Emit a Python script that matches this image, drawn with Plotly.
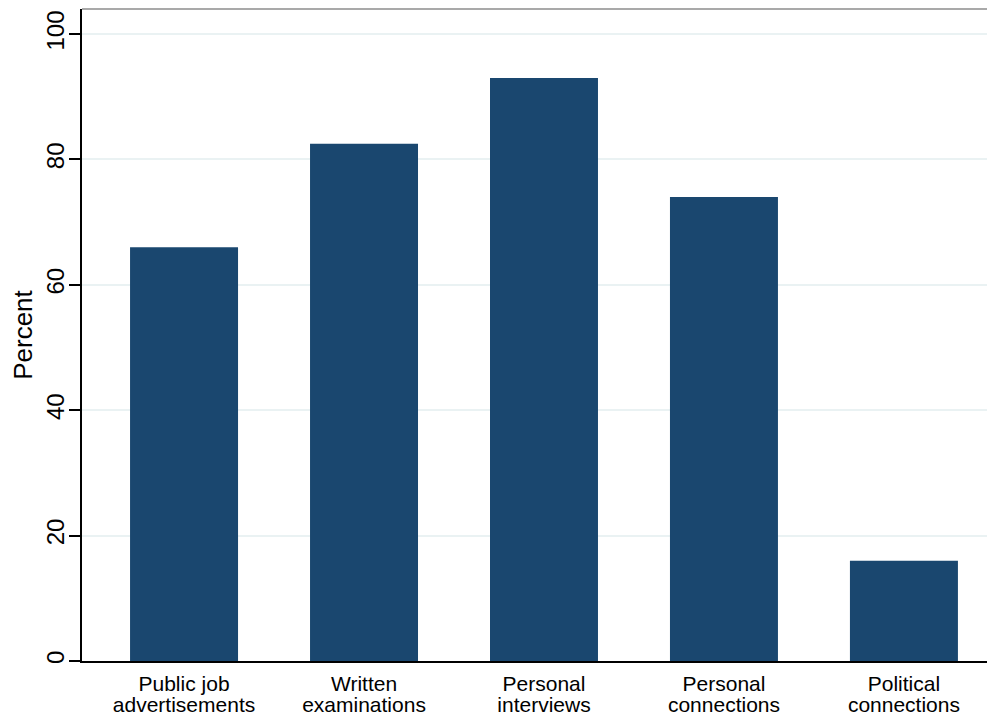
import plotly.graph_objects as go

categories = ["Public job advertisements", "Written examinations", "Personal interviews",
              "Personal connections", "Political connections"]
label_line1 = ["Public job", "Written", "Personal", "Personal", "Political"]
label_line2 = ["advertisements", "examinations", "interviews", "connections", "connections"]
percent = [66.0, 82.5, 93.0, 74.0, 16.0]
y_ticks = [0, 20, 40, 60, 80, 100]

pos = list(range(len(categories)))
FONT = "Liberation Sans, Arial, sans-serif"
xr = [-0.567, 4.506]

fig = go.Figure()
fig.add_trace(go.Bar(x=pos, y=percent, width=0.6, marker=dict(color="#1a476f", line=dict(width=0)),
                     hovertext=categories, name="Percent"))
fig.add_trace(go.Scatter(x=[pos[0]], y=[0], xaxis="x2", mode="markers",
                         marker=dict(opacity=0), hoverinfo="skip", showlegend=False))

fig.update_layout(
    width=987, height=710,
    margin=dict(l=74, r=0, t=1, b=57, autoexpand=False),
    paper_bgcolor="white", plot_bgcolor="white",
    showlegend=False,
    font=dict(family=FONT, color="black"),
    xaxis=dict(range=xr, tickmode="array", tickvals=pos, ticktext=label_line1,
               showgrid=False, zeroline=False, showline=True, linecolor="black", linewidth=1.5,
               ticks="", tickfont=dict(size=21, family=FONT), ticklabelstandoff=3),
    xaxis2=dict(range=xr, overlaying="x", anchor="y", side="bottom", tickmode="array",
                tickvals=pos, ticktext=label_line2, showgrid=False, zeroline=False, showline=False,
                ticks="", tickfont=dict(size=21, family=FONT), ticklabelstandoff=29),
    yaxis=dict(range=[0, 104.0], tickmode="array", tickvals=y_ticks,
               showgrid=True, gridcolor="#eaf2f3", gridwidth=2, zeroline=False,
               showline=True, linecolor="black", linewidth=1.5,
               ticks="outside", ticklen=11, tickwidth=1.5, tickcolor="black",
               tickangle=-90, tickfont=dict(size=24, family=FONT), ticklabelstandoff=-4,
               title=dict(text="Percent", font=dict(size=26, family=FONT), standoff=6)),
    shapes=[dict(type="line", xref="paper", yref="paper", x0=0, x1=1, y0=1, y1=1,
                 line=dict(color="#8c8c8c", width=1.5))],
)

fig.write_html("out.html")
